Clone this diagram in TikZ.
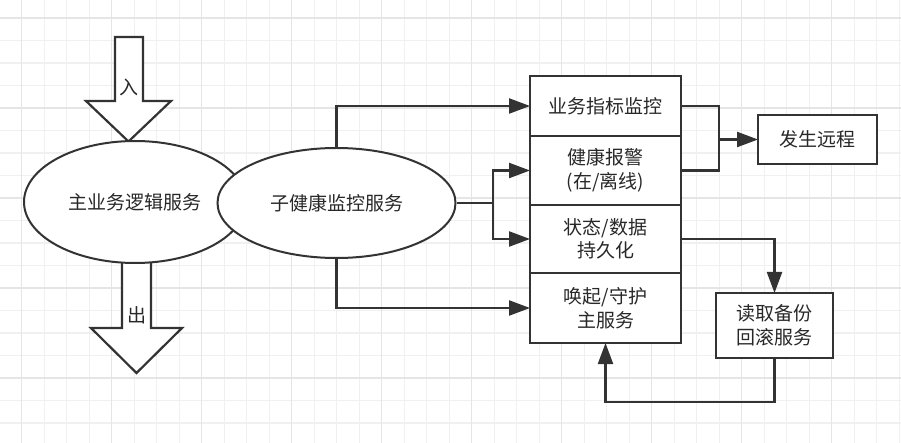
\documentclass[tikz,border=0pt]{standalone}
\usepackage{fontspec}
\setmainfont{Noto Sans CJK SC}
\usetikzlibrary{
    arrows.meta,
    positioning,
    shapes.geometric
}
\tikzset{
  oval/.style  = {ellipse, draw=lnGray, fill=white, line width=2pt,
                  inner sep=0pt, text=txGray},
  cell/.style  = {draw=lnGray, fill=white, line width=2.3pt, outer sep=0pt,
                  minimum width=151pt, align=center, text=txGray},
  sbox/.style  = {draw=lnGray, fill=white, line width=2.3pt, outer sep=0pt,
                  align=center, text=txGray},
  arr/.style   = {-{Triangle[length=21pt,width=15pt]}, line width=2.2pt, lnGray},
  wire/.style  = {line width=2.2pt, lnGray},
  fat/.style   = {draw=lnGray, fill=white, line width=2.2pt},
  gmin/.style  = {gray!12, line width=1.2pt},
  gmaj/.style  = {gray!20, line width=1.2pt}
}
\definecolor{lnGray}{RGB}{51,51,51}
\definecolor{txGray}{RGB}{40,40,40}

\begin{document}
\begin{tikzpicture}[x=1pt, y=-1pt,
    font=\fontsize{19pt}{23.5pt}\selectfont
  ]
    \fill[white] (0,0) rectangle (901,443);
    \useasboundingbox (0,0) rectangle (901,443);
    \foreach \k in {0,...,39} \draw[gmin] ({21.7+22.5*\k},0) -- ++(0,443);
    \foreach \k in {0,...,18} \draw[gmin] (0,{18+22.5*\k}) -- ++(901,0);
    \foreach \k in {0,...,9} \draw[gmaj] ({21.7+90*\k},0) -- ++(0,443);
    \foreach \k in {0,...,4} \draw[gmaj] (0,{18+90*\k}) -- ++(901,0);

    \draw[fat] (115,37) -- (143,37) -- (143,101) -- (171,101) -- (128.5,141.5)
      -- (86,101) -- (115,101) -- cycle;
    \draw[fat] (122,250) -- (151,250) -- (151,328) -- (182,328) -- (136.5,373)
      -- (91,328) -- (122,328) -- cycle;
    \node[text=txGray] (inl) at (129,87) {入};
    \node[text=txGray] (outl) at (136.5,315) {出};

    \node[oval, minimum width=222pt, minimum height=122pt] (main) at (135,202) {主业务逻辑服务};
    \node[oval, minimum width=238pt, minimum height=110pt] (sub) at (336.5,203) {子健康监控服务};

    \node[cell, minimum height=60pt] (bm) at (605.5,106) {业务指标监控};
    \node[cell, minimum height=69pt, below=0pt of bm] (hw) {健康报警\\(在/离线)};
    \node[cell, minimum height=68pt, below=0pt of hw] (ps) {状态/数据\\持久化};
    \node[cell, minimum height=70pt, below=0pt of ps] (wk) {唤起/守护\\主服务};

    \node[sbox, minimum width=119pt, minimum height=49pt] (remote) at (817.5,139.5) {发生远程};
    \node[sbox, minimum width=117pt, minimum height=65pt] (rb) at (774.5,325.5) {读取备份\\回滚服务};

    \coordinate (fork) at (493,203);
    \coordinate (join) at (719,139.5);

    \draw[arr] (sub.north) |- (bm.west);
    \draw[wire] (sub.east) -- (fork);
    \draw[arr] (fork) |- (hw.west);
    \draw[arr] (fork) |- (ps.west);
    \draw[arr] (sub.south) |- (wk.west);
    \draw[wire] (bm.east) -| (join) |- (hw.east);
    \draw[arr] (join) -- (remote.west);
    \draw[arr] (ps.east) -| (rb.north);
    \draw[arr] (rb.south) -- ++(0,44) -| (wk.south);
  \end{tikzpicture}
\end{document}
